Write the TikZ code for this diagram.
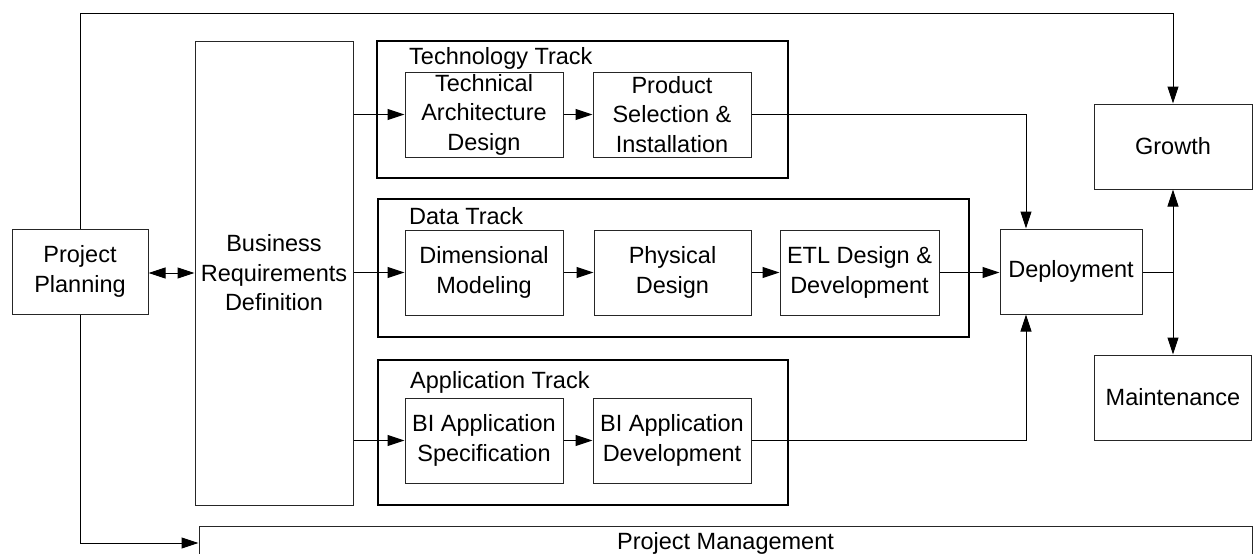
\documentclass[tikz,border=0pt]{standalone}
\usepackage{fontspec}
\setmainfont{Liberation Sans}
\usetikzlibrary{arrows.meta,calc}
\begin{document}
\begin{tikzpicture}[x=1pt,y=-1pt,
  txt/.style={font=\fontsize{23.5}{29.5}\selectfont},
  box/.style={draw=black!85,line width=1pt,align=center,inner sep=0pt,txt,minimum height=85pt},
  track/.style={draw=black,line width=1.5pt,inner sep=0pt},
  tracklabel/.style={anchor=base west,inner sep=0pt,txt},
  conn/.style={line width=1pt,draw=black},
  arr/.style={conn,-{Triangle[length=17pt,width=11pt]}},
  darr/.style={conn,{Triangle[length=17pt,width=11pt]}-{Triangle[length=17pt,width=11pt]}}
]
\useasboundingbox (0,0) rectangle (1254,554);
\clip (0,0) rectangle (1254,554);
\fill[white] (0,0) rectangle (1254,554);

% track containers
\node[track,minimum width=411pt,minimum height=137pt] (techtrack) at (582.5,109.5) {};
\node[track,minimum width=591pt,minimum height=138pt] (datatrack) at (673.5,268) {};
\node[track,minimum width=410pt,minimum height=145pt] (apptrack) at (583,432.5) {};
\node[tracklabel] (techlabel) at (409,64) {Technology Track};
\node[tracklabel] (datalabel) at (409,224) {Data Track};
\node[tracklabel] (applabel) at (410,388) {Application Track};

% boxes
\node[box,minimum width=136pt] (pp) at (80,271.5) {Project\\Planning};
\node[box,minimum width=158pt,minimum height=464pt] (brd) at (274,273) {Business\\Requirements\\Definition};
\node[box,minimum width=158pt] (tad) at (484,114.5) {Technical\\Architecture\\Design};
\node[box,minimum width=158pt] (psi) at (672,114.5) {Product\\Selection \&\\Installation};
\node[box,minimum width=158pt] (dm) at (484,272.5) {Dimensional\\Modeling};
\node[box,minimum width=157pt] (pd) at (672.5,272.5) {Physical\\Design};
\node[box,minimum width=159pt] (etl) at (859.5,272.5) {ETL Design \&\\Development};
\node[box,minimum width=158pt] (bias) at (484,440.5) {BI Application\\Specification};
\node[box,minimum width=158pt] (biad) at (672,440.5) {BI Application\\Development};
\node[box,minimum width=142pt] (dep) at (1071,271.5) {Deployment};
\node[box,minimum width=158pt] (growth) at (1173,146.5) {Growth};
\node[box,minimum width=157pt] (maint) at (1173,397.5) {Maintenance};
\node[box,minimum width=1053pt,minimum height=34pt] (pm) at (725.5,543) {Project Management};

% helper coordinates
\coordinate (topline) at (0,13);
\coordinate (depin) at (1026,0);
\coordinate (junc) at (1173,272);

% connectors
\draw[arr] (pp.north) -- (pp.north |- topline) -| (growth.north);
\draw[arr] (pp.south) |- (pm.west);
\draw[darr] (pp.east |- 0,273) -- (brd.west |- 0,273);
\draw[arr] (brd.east |- tad.west) -- (tad.west);
\draw[arr] (brd.east |- dm.west) -- (dm.west);
\draw[arr] (brd.east |- bias.west) -- (bias.west);
\draw[arr] (tad) -- (psi);
\draw[arr] (dm) -- (pd);
\draw[arr] (pd) -- (etl);
\draw[arr] (bias) -- (biad);
\draw[arr] (psi.east) -| (depin |- dep.north);
\draw[arr] (biad.east) -| (depin |- dep.south);
\draw[arr] (etl.east) -- (dep.west |- etl.east);
\draw[conn] (dep.east |- junc) -- (junc);
\draw[arr] (junc) -- (growth.south);
\draw[arr] (junc) -- (maint.north);
\end{tikzpicture}
\end{document}
